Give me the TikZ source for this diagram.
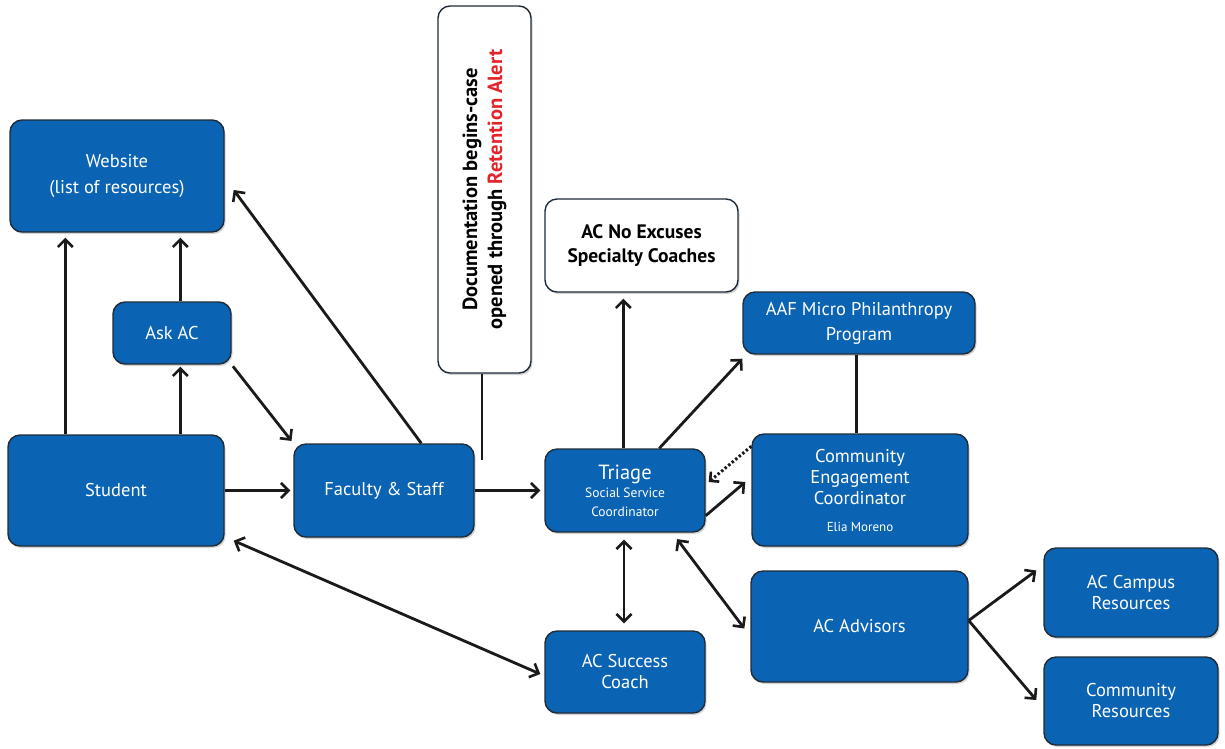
\documentclass[tikz,border=0pt]{standalone}
\usepackage{fontspec}
\setmainfont{PT Sans}
\usetikzlibrary{arrows.meta,calc,shadows}
\definecolor{boxblue}{HTML}{0B63B3}
\definecolor{boxedge}{HTML}{1F2B38}
\definecolor{alertred}{HTML}{E3252B}
\definecolor{linegray}{HTML}{1A1A1A}
\tikzset{
  bluebox/.style={draw=boxedge, line width=1.4pt, fill=boxblue, rounded corners=12pt,
    text=white, inner sep=0pt, align=center, font=\fontsize{18.5}{21}\selectfont,
    drop shadow={shadow xshift=1.5pt, shadow yshift=-2pt, opacity=0.35}},
  whitebox/.style={draw=boxedge, line width=1.4pt, fill=white, rounded corners=12pt,
    text=black, inner sep=0pt, align=center, font=\fontsize{19.5}{24}\selectfont\bfseries,
    drop shadow={shadow xshift=1.5pt, shadow yshift=-2pt, opacity=0.35}},
  conn/.style={draw=linegray, line width=2.8pt},
  arr/.style={conn, -{Straight Barb[length=7.5pt,width=15pt,line width=2.6pt]}},
  darr/.style={conn, {Straight Barb[length=7.5pt,width=15pt,line width=2.6pt]}-{Straight Barb[length=7.5pt,width=15pt,line width=2.6pt]}},
  dotarr/.style={draw=linegray, line width=3pt, dash pattern=on 2.4pt off 2.2pt, -{Straight Barb[length=6.5pt,width=13pt,line width=2.6pt]}},
}
\begin{document}
\begin{tikzpicture}[x=1pt,y=-1pt]
\useasboundingbox (0,0) rectangle (1225,748);
% boxes
\node[bluebox, font=\fontsize{18.5}{26}\selectfont, minimum width=214pt, minimum height=112pt] (web) at (117,176) {Website\\(list of resources)};
\node[bluebox, minimum width=118pt, minimum height=62pt] (ask) at (172,333) {Ask AC};
\node[bluebox, minimum width=216pt, minimum height=111pt] (stu) at (116,490.5) {Student};
\node[bluebox, minimum width=180pt, minimum height=93pt] (fac) at (384,490.5) {Faculty \& Staff};
\node[whitebox, font=\fontsize{20.5}{25}\selectfont\bfseries, minimum width=93pt, minimum height=367pt] (doc) at (484.5,189.5)
  {\rotatebox{90}{\begin{tabular}{@{}c@{}}Documentation begins-case\\opened through \textcolor{alertred}{Retention Alert}\end{tabular}}};
\node[whitebox, minimum width=193pt, minimum height=93pt] (noex) at (641.5,245.5) {AC No Excuses\\Specialty Coaches};
\node[bluebox, font=\fontsize{13.5}{18.5}\selectfont, minimum width=160pt, minimum height=83pt] (tri) at (625,490.5)
  {{\fontsize{20.5}{22}\selectfont Triage}\\Social Service\\Coordinator};
\node[bluebox, font=\fontsize{18.5}{25}\selectfont, minimum width=232pt, minimum height=62pt] (aaf) at (859,323) {AAF Micro Philanthropy\\Program};
\node[bluebox, minimum width=216pt, minimum height=112pt] (cec) at (860,490)
  {Community\\Engagement\\Coordinator\\[6pt]{\fontsize{13}{15}\selectfont Elia Moreno}};
\node[bluebox, minimum width=160pt, minimum height=82pt] (suc) at (625,672) {AC Success\\Coach};
\node[bluebox, minimum width=217pt, minimum height=111pt] (adv) at (859.5,626.5) {AC Advisors};
\node[bluebox, minimum width=174pt, minimum height=89pt] (camp) at (1131,592.5) {AC Campus\\Resources};
\node[bluebox, minimum width=174pt, minimum height=88pt] (comm) at (1131,701) {Community\\Resources};
% connectors
\draw[arr, shorten >=5pt] ($(stu.north west)+(58,0)$) -- ($(web.south west)+(56,0)$);
\draw[arr, shorten >=2pt] ($(stu.north west)+(173,0)$) -- ($(ask.south west)+(68,0)$);
\draw[arr, shorten >=5pt] ($(ask.north west)+(68,0)$) -- ($(web.south west)+(171,0)$);
\draw[arr, shorten <=2pt, shorten >=3pt] (ask.south east) -- (fac.north west);
\draw[arr] ($(fac.north west)+(128,0)$) -- ($(web.east)+(9,14)$);
\draw[conn] ($(doc.south)+(-2.5,0)$) -- ++(0,86);
\draw[arr, shorten >=3pt] (stu.east) -- (fac.west);
\draw[arr, shorten >=4pt] (fac.east) -- (tri.west);
\draw[arr, shorten >=6pt] ($(tri.north west)+(79,0)$) -- ($(noex.south west)+(79,0)$);
\draw[arr] ($(tri.north west)+(115,0)$) -- ($(aaf.south west)+(0,4)$);
\draw[conn] ($(aaf.south west)+(114,0)$) -- ($(cec.north west)+(105,0)$);
\draw[dotarr] ($(cec.north west)+(0,13)$) -- ($(tri.east)+(3,-8.5)$);
\draw[arr] ($(tri.south east)+(0,-17)$) -- ($(cec.west)+(-6,-8)$);
\draw[darr, shorten <=7pt, shorten >=7pt] ($(tri.south)+(-1,0)$) -- ($(suc.north)+(-1,0)$);
\draw[darr, shorten <=8pt] ($(tri.south west)+(128,0)$) -- ($(adv.west)+(-6,2)$);
\draw[darr] ($(stu.south east)+(9,-6)$) -- ($(suc.west)+(-4,2)$);
\draw[arr] ($(adv.east)+(0,-6)$) -- ($(camp.west)+(-7,-22)$);
\draw[arr] ($(adv.east)+(0,-6)$) -- ($(comm.west)+(-7,-1)$);
\end{tikzpicture}
\end{document}
